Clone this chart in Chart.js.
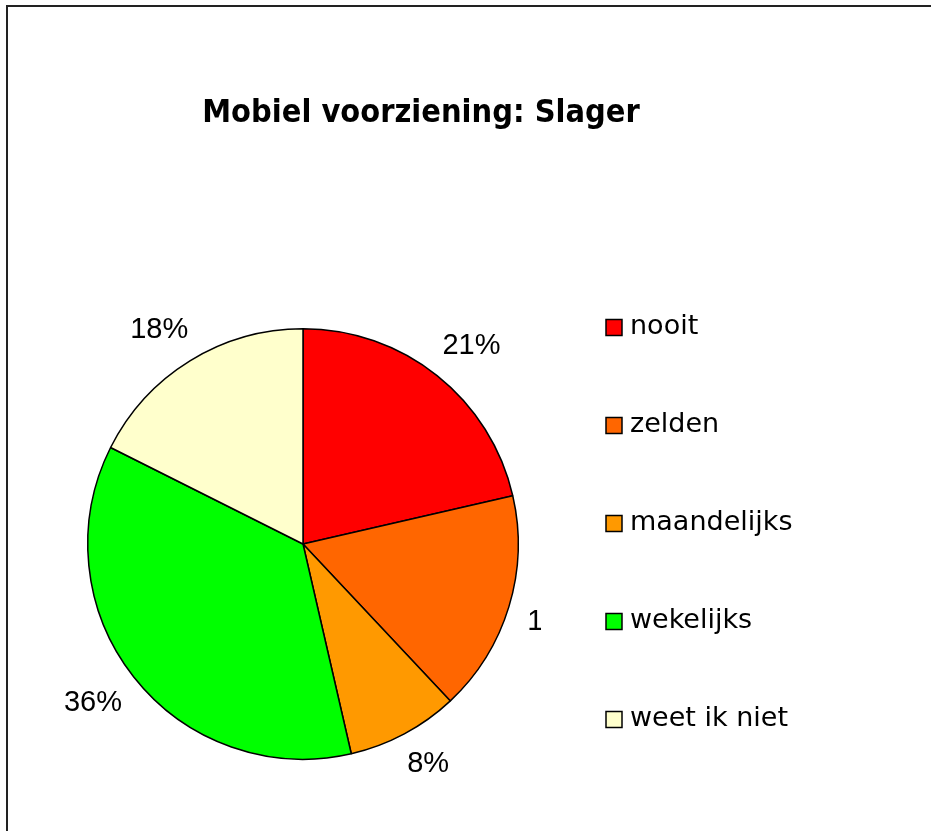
<!DOCTYPE html>
<html>
<head>
  <script src="https://cdn.jsdelivr.net/npm/chart.js@4/dist/chart.umd.min.js"></script>
  <style>
    html, body { margin: 0; padding: 0; background: #fff; }
    #wrap { width: 931px; height: 831px; }
  </style>
</head>
<body>
<div id="wrap">
<canvas id="pie-chart" width="931" height="831"></canvas>
</div>
<script>
  var chartTitle = "Mobiel voorziening: Slager";
  var categories = ["nooit", "zelden", "maandelijks", "wekelijks", "weet ik niet"];
  var shares = [21.4, 16.6, 8.4, 36.0, 17.6];
  var colors = ["#FF0000", "#FF6600", "#FF9900", "#00FF00", "#FFFFCC"];

  // frame, title, slice labels and legend drawn by hand
  var decorPlugin = {
    id: 'decor',
    beforeDraw: function(chart) {
      var ctx = chart.ctx;
      ctx.save();
      ctx.fillStyle = '#fff';
      ctx.fillRect(0, 0, chart.width, chart.height);
      ctx.strokeStyle = '#222';
      ctx.lineWidth = 2;
      ctx.strokeRect(7, 6, chart.width + 20, chart.height + 20);
      ctx.restore();
    },
    afterDraw: function(chart) {
      var ctx = chart.ctx;
      ctx.save();
      ctx.fillStyle = '#000';
      ctx.save();
      ctx.translate(421, 122);
      ctx.scale(1, 1.1);
      ctx.font = 'bold 29px "DejaVu Sans"';
      ctx.textAlign = 'center';
      ctx.textBaseline = 'alphabetic';
      ctx.fillText(chartTitle, 0, 0);
      ctx.restore();

      // percentage labels outside the slices (roughly like excel's outside end)
      var total = shares.reduce(function(a, b) { return a + b; }, 0);
      var arcs = chart.getDatasetMeta(0).data;
      ctx.save();
      ctx.beginPath();
      ctx.rect(0, 0, 541, chart.height);
      ctx.clip();
      ctx.font = '29px "Liberation Sans"';
      ctx.textAlign = 'center';
      ctx.textBaseline = 'middle';
      arcs.forEach(function(arc, i) {
        var txt = Math.round(shares[i] / total * 100) + '%';
        var hw = ctx.measureText(txt).width / 2, hh = 10;
        var mid = (arc.startAngle + arc.endAngle) / 2;
        var ux = Math.cos(mid), uy = Math.sin(mid);
        var R = arc.outerRadius + 19;
        var cx = arc.x + ux * R + hw * Math.sign(ux);
        var cy = arc.y + uy * R + hh * Math.sign(uy);
        var d = R + hw * Math.abs(ux) + hh * Math.abs(uy);
        var rx = arc.x + ux * d, ry = arc.y + uy * d;
        ctx.fillText(txt, (cx + rx) / 2, (cy + ry) / 2);
      });
      ctx.restore();

      // legend
      ctx.font = '27px "DejaVu Sans"';
      ctx.textAlign = 'left';
      ctx.textBaseline = 'middle';
      categories.forEach(function(c, i) {
        var y = 327.5 + i * 98;
        ctx.fillStyle = colors[i];
        ctx.fillRect(606, y - 8, 16, 16);
        ctx.strokeStyle = '#000';
        ctx.lineWidth = 1.5;
        ctx.strokeRect(606, y - 8, 16, 16);
        ctx.fillStyle = '#000';
        ctx.fillText(c, 630, y - 1);
      });
      ctx.restore();
    }
  };

  new Chart(document.getElementById("pie-chart"), {
    type: 'pie',
    data: {
      labels: categories,
      datasets: [{
        data: shares,
        backgroundColor: colors,
        borderColor: '#000',
        borderWidth: 1.5
      }]
    },
    options: {
      responsive: false,
      animation: false,
      layout: { padding: { left: 87, top: 328, right: 412, bottom: 71 } },
      plugins: {
        legend: { display: false },
        title: { display: false },
        tooltip: { enabled: false }
      }
    },
    plugins: [decorPlugin]
  });
</script>
</body>
</html>
